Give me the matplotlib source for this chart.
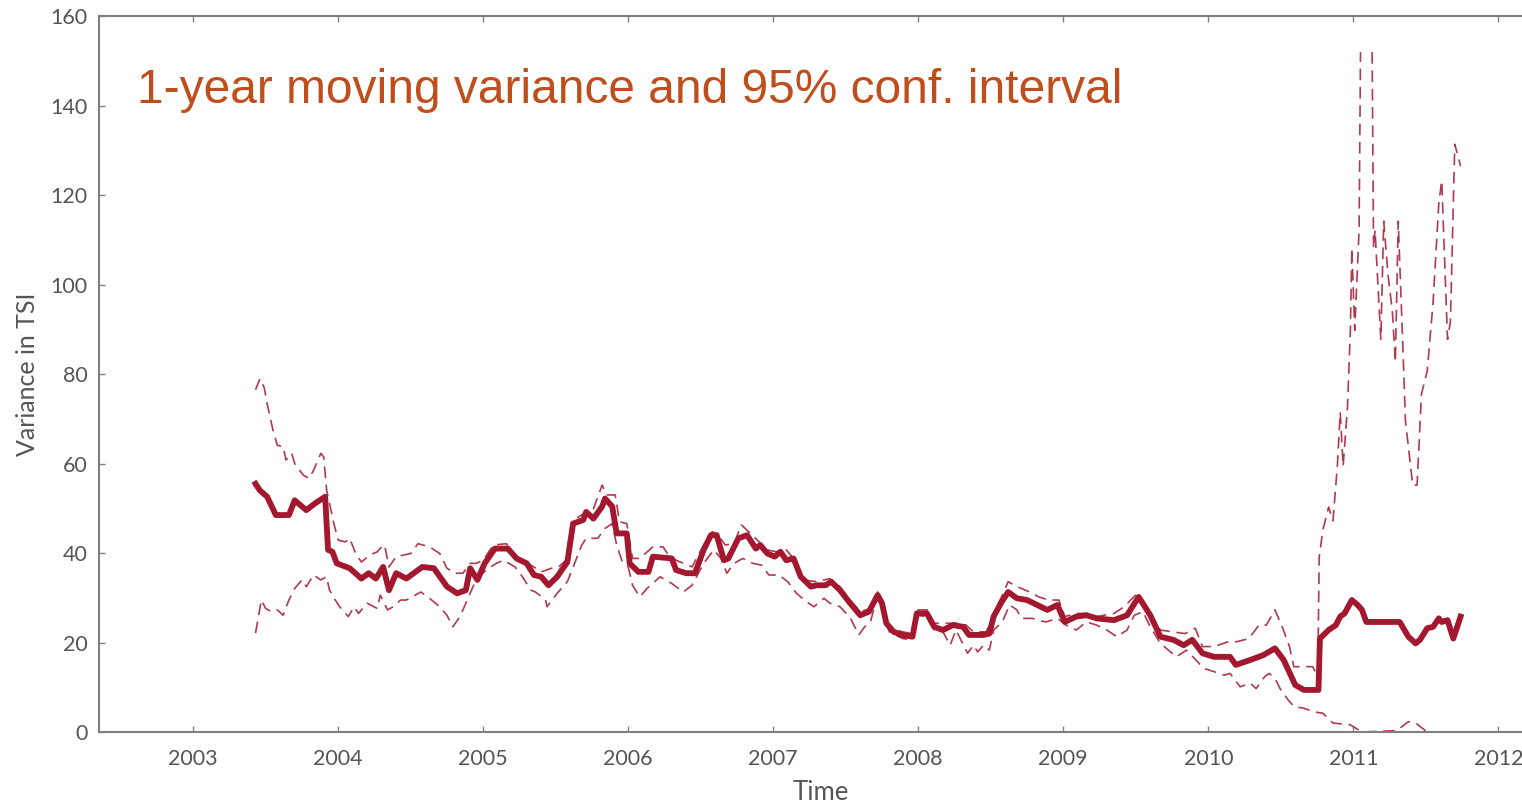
import numpy as np
import matplotlib
matplotlib.use("Agg")
import matplotlib.pyplot as plt

# 1-year moving variance of TSI (decimal year, variance)
var_t = [2003.43, 2003.46, 2003.51, 2003.57, 2003.66, 2003.70, 2003.78, 2003.84, 2003.91, 2003.93,
         2003.96, 2003.99, 2004.08, 2004.16, 2004.21, 2004.26, 2004.31, 2004.35, 2004.40, 2004.47,
         2004.58, 2004.66, 2004.75, 2004.82, 2004.88, 2004.91, 2004.96, 2005.01, 2005.08, 2005.17,
         2005.23, 2005.30, 2005.35, 2005.40, 2005.45, 2005.51, 2005.58, 2005.62, 2005.69, 2005.71,
         2005.76, 2005.82, 2005.84, 2005.89, 2005.92, 2005.99, 2006.01, 2006.07, 2006.14, 2006.17,
         2006.30, 2006.33, 2006.40, 2006.46, 2006.52, 2006.57, 2006.61, 2006.66, 2006.69, 2006.76,
         2006.82, 2006.88, 2006.91, 2006.96, 2007.01, 2007.05, 2007.09, 2007.14, 2007.19, 2007.26,
         2007.30, 2007.36, 2007.40, 2007.46, 2007.53, 2007.60, 2007.66, 2007.72, 2007.75, 2007.78,
         2007.83, 2007.89, 2007.96, 2007.99, 2008.06, 2008.11, 2008.17, 2008.24, 2008.31, 2008.35,
         2008.45, 2008.49, 2008.52, 2008.57, 2008.62, 2008.68, 2008.75, 2008.82, 2008.89, 2008.96,
         2009.01, 2009.09, 2009.16, 2009.23, 2009.35, 2009.44, 2009.52, 2009.60, 2009.67, 2009.76,
         2009.83, 2009.89, 2009.96, 2010.04, 2010.15, 2010.19, 2010.29, 2010.38, 2010.46, 2010.52,
         2010.60, 2010.66, 2010.76, 2010.77, 2010.83, 2010.88, 2010.91, 2010.94, 2010.99, 2011.03,
         2011.06, 2011.09, 2011.32, 2011.38, 2011.43, 2011.46, 2011.51, 2011.55, 2011.59, 2011.61,
         2011.65, 2011.69, 2011.74]
var_v = [55.5, 54.0, 52.6, 48.5, 48.5, 51.8, 49.6, 51.1, 52.6, 40.7,
         40.3, 37.7, 36.6, 34.3, 35.5, 34.3, 36.9, 31.7, 35.5, 34.3,
         36.9, 36.6, 32.5, 31.0, 31.7, 36.6, 34.0, 37.7, 41.0, 41.0,
         38.8, 37.7, 35.1, 34.7, 32.8, 34.7, 38.0, 46.6, 47.4, 49.2,
         47.7, 50.4, 52.2, 50.4, 44.4, 44.4, 37.7, 35.8, 35.8, 39.2,
         38.8, 36.2, 35.5, 35.5, 40.7, 44.0, 44.0, 38.4, 38.8, 43.3,
         44.0, 41.0, 41.8, 39.9, 39.2, 40.3, 38.4, 38.8, 34.7, 32.5,
         32.8, 32.8, 33.6, 31.7, 28.8, 26.1, 26.9, 30.6, 28.8, 24.3,
         22.4, 21.7, 21.3, 26.5, 26.5, 23.5, 22.8, 23.9, 23.5, 21.7,
         21.7, 22.0, 25.8, 28.8, 31.3, 29.9, 29.5, 28.4, 27.3, 28.4,
         24.6, 25.8, 26.1, 25.4, 25.0, 26.1, 30.2, 26.1, 21.3, 20.6,
         19.4, 20.6, 17.6, 16.8, 16.8, 15.0, 16.1, 17.2, 18.7, 16.1,
         10.5, 9.4, 9.4, 20.9, 22.8, 23.9, 25.8, 26.5, 29.5, 28.4,
         27.3, 24.6, 24.6, 21.3, 19.8, 20.6, 23.2, 23.5, 25.4, 24.6,
         25.0, 20.9, 25.8]

# Upper bound of the 95% confidence interval (NaN marks a break in the curve)
upper_t = [2003.43, 2003.46, 2003.49, 2003.51, 2003.53, 2003.55, 2003.58, 2003.62, 2003.64, 2003.68,
           2003.70, 2003.76, 2003.80, 2003.83, 2003.88, 2003.90, 2003.92, 2003.97, 2004.00, 2004.05,
           2004.08, 2004.12, 2004.16, 2004.22, 2004.27, 2004.30, 2004.32, 2004.35, 2004.40, 2004.50,
           2004.55, 2004.63, 2004.70, 2004.75, 2004.81, 2004.86, 2004.91, 2004.95, 2005.00, 2005.07,
           2005.16, 2005.23, 2005.29, 2005.35, 2005.40, 2005.47, 2005.52, 2005.57, 2005.61, 2005.69,
           2005.76, 2005.82, 2005.85, 2005.91, 2005.94, 2005.99, 2006.03, 2006.08, 2006.17, 2006.24,
           2006.27, 2006.33, 2006.44, 2006.52, 2006.58, 2006.62, 2006.67, 2006.73, 2006.78, 2006.83,
           2006.89, 2006.96, 2007.02, 2007.09, 2007.14, 2007.21, 2007.30, 2007.39, 2007.46, 2007.53,
           2007.60, 2007.67, 2007.72, 2007.76, 2007.80, 2007.89, 2007.96, 2008.00, 2008.06, 2008.11,
           2008.20, 2008.27, 2008.33, 2008.38, 2008.47, 2008.52, 2008.57, 2008.62, 2008.68, 2008.77,
           2008.83, 2008.90, 2008.97, 2009.01, 2009.09, 2009.16, 2009.23, 2009.35, 2009.42, 2009.51,
           2009.58, 2009.67, 2009.75, 2009.84, 2009.91, 2009.96, 2010.04, 2010.14, 2010.20, 2010.28,
           2010.35, 2010.40, 2010.46, 2010.51, 2010.56, 2010.59, 2010.66, 2010.72, 2010.755, 2010.765,
           2010.79, 2010.83, 2010.86, 2010.89, 2010.91, 2010.93, 2010.96, 2010.98, 2010.99, 2011.01,
           2011.04, 2011.05, 2011.09, 2011.13, 2011.14, 2011.15, 2011.19, 2011.21, 2011.24, 2011.27,
           2011.29, 2011.31, 2011.34, 2011.36, 2011.41, 2011.44, 2011.47, 2011.51, 2011.55, 2011.59,
           2011.61, 2011.65, 2011.67, 2011.70, 2011.74]
upper_v = [76.5, 79.0, 77.0, 73.4, 70.5, 67.5, 64.1, 63.8, 60.8, 62.3,
           60.0, 57.4, 56.7, 58.5, 62.3, 61.5, 54.1, 46.6, 42.9, 42.5,
           43.3, 39.9, 38.0, 39.6, 40.3, 41.4, 41.8, 36.9, 39.2, 39.9,
           42.1, 41.4, 39.9, 36.6, 35.5, 35.5, 37.7, 37.7, 38.4, 41.8,
           42.1, 39.2, 38.0, 36.9, 35.8, 36.6, 36.9, 38.4, 47.0, 48.8,
           49.9, 55.2, 53.0, 53.0, 47.0, 46.6, 38.8, 38.8, 41.4, 41.4,
           39.9, 38.4, 36.9, 41.8, 44.8, 44.0, 41.8, 42.1, 46.3, 44.8,
           42.9, 40.7, 40.3, 40.7, 38.8, 34.0, 33.6, 34.3, 32.5, 29.5,
           26.9, 27.6, 31.3, 28.0, 23.5, 22.4, 22.0, 27.3, 27.3, 24.3,
           24.3, 24.3, 23.9, 22.4, 22.4, 26.5, 29.9, 33.6, 32.5, 31.3,
           30.2, 29.5, 29.5, 25.8, 26.5, 26.5, 25.8, 26.5, 28.0, 31.0,
           27.3, 22.8, 22.4, 22.0, 23.2, 19.1, 19.1, 20.2, 20.2, 20.9,
           23.9, 23.9, 27.3, 23.5, 19.1, 14.6, 14.6, 14.6, 12.4, 39.1,
           45.1, 50.3, 47.2, 59.4, 71.5, 59.4, 72.6, 89.8, 108.2, 89.8,
           112.2, 152.0, np.nan, 152.0, 108.2, 112.2, 87.8, 114.2, 102.1, 93.9,
           82.7, 114.2, 87.8, 69.5, 55.2, 55.2, 75.5, 80.7, 95.9, 118.2,
           123.3, 87.8, 91.8, 131.4, 126.5]

# Lower bound of the 95% confidence interval
lower_t = [2003.43, 2003.45, 2003.47, 2003.50, 2003.54, 2003.58, 2003.62, 2003.66, 2003.70, 2003.75,
           2003.78, 2003.83, 2003.88, 2003.92, 2003.94, 2003.98, 2004.01, 2004.07, 2004.11, 2004.14,
           2004.20, 2004.27, 2004.29, 2004.34, 2004.38, 2004.43, 2004.47, 2004.57, 2004.63, 2004.70,
           2004.75, 2004.79, 2004.84, 2004.89, 2004.93, 2004.97, 2005.02, 2005.09, 2005.14, 2005.22,
           2005.27, 2005.33, 2005.36, 2005.43, 2005.44, 2005.51, 2005.58, 2005.68, 2005.71, 2005.79,
           2005.84, 2005.89, 2005.92, 2005.96, 2006.00, 2006.03, 2006.08, 2006.13, 2006.22, 2006.30,
           2006.38, 2006.44, 2006.52, 2006.59, 2006.64, 2006.68, 2006.73, 2006.79, 2006.86, 2006.92,
           2006.97, 2007.04, 2007.10, 2007.16, 2007.23, 2007.28, 2007.35, 2007.39, 2007.46, 2007.53,
           2007.59, 2007.63, 2007.67, 2007.72, 2007.76, 2007.80, 2007.89, 2007.96, 2008.00, 2008.06,
           2008.11, 2008.17, 2008.22, 2008.26, 2008.34, 2008.38, 2008.41, 2008.45, 2008.49, 2008.52,
           2008.58, 2008.63, 2008.68, 2008.71, 2008.79, 2008.83, 2008.88, 2008.96, 2009.02, 2009.09,
           2009.16, 2009.23, 2009.30, 2009.37, 2009.44, 2009.49, 2009.55, 2009.60, 2009.67, 2009.74,
           2009.78, 2009.85, 2009.97, 2010.04, 2010.11, 2010.15, 2010.22, 2010.29, 2010.33, 2010.39,
           2010.42, 2010.46, 2010.50, 2010.55, 2010.59, 2010.66, 2010.73, 2010.79, 2010.86, 2010.98,
           2011.06, 2011.30, 2011.38, 2011.43, 2011.51, 2011.74]
lower_v = [22.1, 25.8, 29.5, 27.6, 26.9, 27.3, 26.1, 29.5, 32.1, 34.0,
           32.5, 35.1, 34.0, 34.7, 31.7, 29.5, 28.0, 25.8, 28.0, 26.5,
           28.8, 27.6, 30.6, 27.3, 28.0, 29.5, 29.5, 31.3, 29.9, 28.0,
           26.1, 23.5, 25.8, 29.5, 32.5, 34.7, 36.2, 37.7, 38.4, 36.9,
           34.7, 31.7, 31.3, 29.5, 28.0, 31.0, 33.6, 41.8, 43.3, 43.3,
           45.5, 46.6, 41.8, 38.0, 36.9, 32.8, 30.2, 32.1, 34.7, 33.2,
           31.3, 32.8, 37.7, 40.7, 38.8, 35.5, 37.7, 38.8, 37.7, 37.3,
           35.1, 35.1, 33.6, 31.0, 29.1, 28.0, 29.9, 28.8, 28.0, 25.6,
           21.7, 23.5, 24.6, 30.6, 26.5, 22.4, 20.9, 20.6, 26.1, 25.8,
           22.8, 22.4, 19.4, 22.8, 17.6, 19.4, 17.9, 19.4, 18.3, 22.8,
           24.6, 28.4, 27.3, 25.4, 25.4, 25.0, 24.6, 25.4, 23.9, 22.8,
           24.6, 23.9, 22.8, 21.3, 22.8, 26.1, 26.9, 23.5, 19.8, 17.9,
           16.8, 18.3, 14.2, 13.5, 12.7, 13.1, 10.1, 10.9, 9.7, 12.4,
           13.1, 12.0, 9.4, 7.2, 5.7, 5.3, 4.5, 4.2, 2.0, 1.6,
           0.0, 0.3, 2.3, 2.0, 0.0, 0.0]

year_ticks = [2003, 2004, 2005, 2006, 2007, 2008, 2009, 2010, 2011, 2012]
var_ticks = [0, 20, 40, 60, 80, 100, 120, 140, 160]

line_color = "#A3172F"
axis_gray = "#808080"
label_gray = "#555555"
label_font = ["Lato", "DejaVu Sans"]

fig = plt.figure(figsize=(15.22, 8.05), dpi=100)
ax = fig.add_axes([0.065, 0.0907, 0.948, 0.889])

ax.plot(upper_t, upper_v, color=line_color, lw=1.2, alpha=0.85,
        linestyle=(0, (7, 4)))
ax.plot(lower_t, lower_v, color=line_color, lw=1.2, alpha=0.85,
        linestyle=(0, (7, 4)))
ax.plot(var_t, var_v, color=line_color, lw=4.2, solid_joinstyle="round")

ax.set_xlim(2002.35, 2012.3)
ax.set_ylim(0, 160)
ax.set_xticks(year_ticks)
ax.set_xticklabels([str(y) for y in year_ticks])
ax.set_yticks(var_ticks)

for sp in ax.spines.values():
    sp.set_color(axis_gray)
    sp.set_linewidth(1.5)

ax.tick_params(direction="in", top=True, right=True, length=4, width=1,
               color=axis_gray, labelcolor=label_gray, labelsize=15.5)
ax.tick_params(axis="x", pad=12)
ax.tick_params(axis="y", pad=8)
for lbl in ax.get_xticklabels() + ax.get_yticklabels():
    lbl.set_family(label_font)

ax.set_xlabel("Time", fontsize=18.5, color=label_gray, family=label_font, labelpad=8)
ax.set_ylabel("Variance in TSI", fontsize=18, color=label_gray, family=label_font, labelpad=8)

fig.text(0.09, 0.872, "1-year moving variance and 95% conf. interval",
         fontsize=34.5, color="#BF4E1C", family=["Liberation Sans", "DejaVu Sans"],
         va="baseline", ha="left")

fig.savefig("out.png", dpi=100)
